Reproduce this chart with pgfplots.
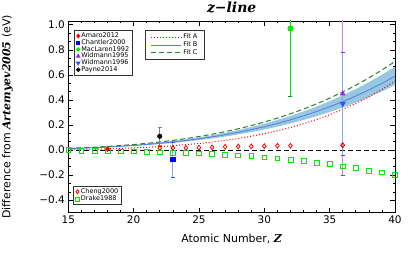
\documentclass[border=0pt]{standalone}
\usepackage{fontspec}
\setmainfont{DejaVu Sans}
\newfontfamily\seriffont{DejaVu Serif}
\usepackage{pgfplots}
\pgfplotsset{compat=1.18}
\usepgfplotslibrary{fillbetween}

\definecolor{fitband}{RGB}{150,200,225}
\definecolor{fitB}{RGB}{90,120,230}
\definecolor{fitC}{RGB}{40,130,40}
\definecolor{bgreen}{RGB}{0,235,0}
\definecolor{wpurple}{RGB}{150,50,230}
\definecolor{wpurplebar}{RGB}{210,130,240}
\definecolor{wblue}{RGB}{50,80,240}
\definecolor{wbluebar}{RGB}{140,160,240}

\pgfplotstableread{
Z A B C lo hi
15 0.0041 0.0116 0.0140 0.0102 0.0131
16 0.0056 0.0151 0.0181 0.0133 0.0171
17 0.0076 0.0192 0.0231 0.0169 0.0217
18 0.0101 0.0241 0.0290 0.0212 0.0272
19 0.0133 0.0300 0.0360 0.0264 0.0339
20 0.0172 0.0368 0.0442 0.0324 0.0416
21 0.0219 0.0447 0.0537 0.0393 0.0505
22 0.0277 0.0539 0.0647 0.0474 0.0609
23 0.0346 0.0644 0.0772 0.0567 0.0728
24 0.0428 0.0763 0.0916 0.0671 0.0862
25 0.0524 0.0898 0.1078 0.0790 0.1015
26 0.0638 0.1051 0.1261 0.0925 0.1188
27 0.0771 0.1222 0.1467 0.1075 0.1381
28 0.0924 0.1414 0.1696 0.1244 0.1598
29 0.1101 0.1627 0.1952 0.1432 0.1839
30 0.1305 0.1863 0.2236 0.1639 0.2105
31 0.1537 0.2124 0.2549 0.1869 0.2400
32 0.1802 0.2412 0.2894 0.2123 0.2726
33 0.2102 0.2728 0.3273 0.2401 0.3083
34 0.2440 0.3074 0.3688 0.2705 0.3474
35 0.2820 0.3451 0.4142 0.3037 0.3900
36 0.3247 0.3863 0.4636 0.3399 0.4365
37 0.3724 0.4311 0.5173 0.3794 0.4871
38 0.4255 0.4796 0.5755 0.4220 0.5419
39 0.4845 0.5321 0.6385 0.4682 0.6013
40 0.5499 0.5888 0.7066 0.5181 0.6653
}\fits

\pgfplotstableread{
Z y
15 0.000
16 -0.005
17 -0.005
18 -0.010
19 -0.010
20 -0.010
21 -0.013
22 -0.018
23 -0.020
24 -0.023
25 -0.026
26 -0.031
27 -0.036
28 -0.042
29 -0.047
30 -0.057
31 -0.065
32 -0.078
33 -0.088
34 -0.100
35 -0.109
36 -0.130
37 -0.143
38 -0.164
39 -0.177
40 -0.200
}\drake

\pgfplotstableread{
Z y
18 0.008
22 0.016
23 0.016
24 0.017
25 0.020
26 0.021
27 0.026
28 0.029
29 0.029
30 0.031
31 0.034
32 0.034
36 0.039
}\cheng

\pgfplotsset{
  common/.style={
    scale only axis, width=326.7bp, height=191.7bp,
    at={(0,0)}, anchor=south west,
    xmin=15, xmax=40, ymin=-0.5, ymax=1.03,
  },
  legfont/.style={font=\fontsize{6.5}{7.5}\selectfont},
}

\begin{document}
\begin{tikzpicture}
\begin{axis}[common,
  xtick={15,20,...,40}, minor x tick num=4,
  ytick={-0.4,-0.2,0,0.2,0.4,0.6,0.8,1.0},
  yticklabels={−0.4,−0.2,0.0,0.2,0.4,0.6,0.8,1.0},
  minor y tick num=2,
  tick align=inside, major tick length=5bp, minor tick length=2.5bp,
  tick style={black, line width=0.6bp},
  axis line style={line width=0.8bp},
  /pgf/number format/assume math mode=true,
  ticklabel style={font=\fontsize{10.5}{12}\selectfont},
  xlabel={Atomic Number, {\seriffont\bfseries\itshape Z}},
  ylabel={Difference from {\seriffont\bfseries\itshape Artemyev2005} (eV)},
  label style={font=\fontsize{11}{13}\selectfont},
  xlabel style={at={(axis description cs:0.5,-0.137)}, anchor=center},
  ylabel style={at={(axis description cs:-0.186,0.5)}, anchor=center},
  title={{\seriffont\bfseries\itshape z−line}},
  title style={at={(axis description cs:0.5,1)}, anchor=center, yshift=7.5bp, font=\fontsize{14}{15}\selectfont},
]
\addplot[draw=none, name path=lo, forget plot] table[x=Z, y=lo] {\fits};
\addplot[draw=none, name path=hi, forget plot] table[x=Z, y=hi] {\fits};
\addplot[fitband, forget plot] fill between[of=lo and hi];
\addplot[black, dashed, line width=0.8bp, dash pattern=on 5bp off 3bp, forget plot] coordinates {(15,0) (40,0)};
\addplot[red, dotted, line width=1bp, forget plot] table[x=Z, y=A] {\fits};
\addplot[fitB, line width=0.8bp, forget plot] table[x=Z, y=B] {\fits};
\addplot[fitC, dashed, line width=1bp, dash pattern=on 5bp off 3bp, forget plot] table[x=Z, y=C] {\fits};
% Drake1988
\addplot[only marks, mark=square, mark size=2.4pt, bgreen, line width=0.6bp, forget plot] table[x=Z, y=y] {\drake};
% Cheng2000
\addplot[only marks, mark=diamond, mark size=2.4pt, red, line width=0.8bp, forget plot] table[x=Z, y=y] {\cheng};
% Amaro2012
\addplot[only marks, mark=diamond*, mark size=2.2pt, red, forget plot] coordinates {(18,0.010)};
% Payne2014
\addplot[only marks, mark=*, mark size=2.3pt, black, forget plot,
  error bars/.cd, y dir=both, y explicit,
  error bar style={gray, line width=0.8bp},
  error mark options={rotate=90, mark size=2pt, gray, line width=0.8bp}]
  coordinates {(22,0.11) +- (0,0.07)};
% Chantler2000
\addplot[only marks, mark=square*, mark size=2.2pt, blue, forget plot,
  error bars/.cd, y dir=both, y explicit,
  error bar style={wbluebar, line width=0.9bp},
  error mark options={rotate=90, mark size=2pt, wblue, line width=0.8bp}]
  coordinates {(23,-0.075) +- (0,0.14)};
% MacLaren1992
\addplot[only marks, mark=*, mark size=2.8pt, bgreen, forget plot,
  error bars/.cd, y dir=both, y explicit,
  error bar style={bgreen, line width=0.9bp},
  error mark options={rotate=90, mark size=2pt, bgreen!70!black, line width=0.8bp}]
  coordinates {(32,0.97) +- (0,0.54)};
% Widmann1995
\addplot[only marks, mark=triangle*, mark size=3pt, wpurple, forget plot,
  error bars/.cd, y dir=both, y explicit,
  error bar style={wpurplebar, line width=1bp},
  error mark options={rotate=90, mark size=2pt, wpurple, line width=0.8bp}]
  coordinates {(36,0.45) +- (0,0.65)};
% Widmann1996
\addplot[only marks, mark=triangle*, mark options={rotate=180}, mark size=3pt, wblue, forget plot,
  error bars/.cd, y dir=both, y explicit,
  error bar style={wbluebar, line width=1bp},
  error mark options={rotate=90, mark size=2pt, wblue, line width=0.8bp}]
  coordinates {(36,0.37) +- (0,0.41)};
% Cheng point at 36 on top of error bars
\addplot[only marks, mark=diamond, mark size=2.4pt, red, line width=0.8bp, forget plot] coordinates {(36,0.039)};
\end{axis}

% legend 1
\begin{axis}[common, hide axis,
  legend style={at={(0.0175,0.953)}, anchor=north west, legfont, draw=black!80, line width=0.9bp,
    inner xsep=2pt, inner ysep=0.8pt, row sep=-2.6pt, nodes={inner sep=1.5pt, line width=0.4bp}},
  legend cell align=left]
\addlegendimage{only marks, mark=diamond*, red, mark size=1.8pt}
\addlegendentry{Amaro2012}
\addlegendimage{only marks, mark=square*, blue, mark size=1.6pt}
\addlegendentry{Chantler2000}
\addlegendimage{only marks, mark=*, bgreen, mark size=1.7pt}
\addlegendentry{MacLaren1992}
\addlegendimage{only marks, mark=triangle*, wpurple, mark size=2pt}
\addlegendentry{Widmann1995}
\addlegendimage{only marks, mark=triangle*, mark options={rotate=180}, wblue, mark size=2pt}
\addlegendentry{Widmann1996}
\addlegendimage{only marks, mark=*, black, mark size=1.7pt}
\addlegendentry{Payne2014}
\end{axis}

% legend 2
\begin{axis}[common, hide axis,
  legend style={at={(0.236,0.953)}, anchor=north west, legfont, draw=black!80, line width=0.9bp,
    inner xsep=5pt, inner ysep=2pt, row sep=-1.6pt, nodes={inner sep=1.5pt}},
  legend cell align=left,
  legend image code/.code={\draw[#1] (0bp,0bp) -- (30bp,0bp);}]
\addlegendimage{red, dotted, line width=1bp}
\addlegendentry{Fit A}
\addlegendimage{fitB, line width=0.8bp}
\addlegendentry{Fit B}
\addlegendimage{fitC, dashed, line width=1bp, dash pattern=on 5bp off 3bp}
\addlegendentry{Fit C}
\end{axis}

% legend 3
\begin{axis}[common, hide axis,
  legend style={at={(0.0145,0.04)}, anchor=south west, legfont, draw=black!80, line width=0.9bp,
    inner xsep=2pt, inner ysep=1pt, row sep=-2.2pt, nodes={inner sep=1.5pt}},
  legend cell align=left]
\addlegendimage{only marks, mark=diamond, red, mark size=2pt, line width=0.8bp}
\addlegendentry{Cheng2000}
\addlegendimage{only marks, mark=square, bgreen, mark size=2pt, line width=0.7bp}
\addlegendentry{Drake1988}
\end{axis}

\pgfresetboundingbox
\path[use as bounding box] (-68.3bp,-44.3bp) rectangle (346.7bp,212.7bp);
\end{tikzpicture}
\end{document}
